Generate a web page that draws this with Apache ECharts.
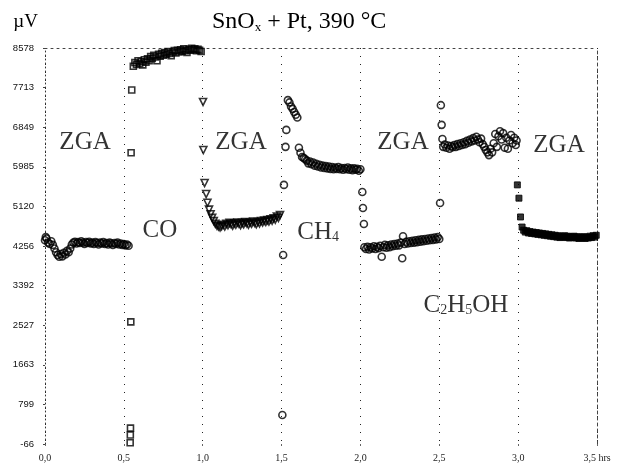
<!DOCTYPE html>
<html><head><meta charset="utf-8">
<script src="https://cdn.jsdelivr.net/npm/echarts@6/dist/echarts.min.js"></script>
<style>html,body{margin:0;padding:0;background:#fff}#c{width:634px;height:469px}</style>
</head><body><div id="c"></div>
<script>
// ---- tick labels ----
const xTickLabels = ['0,0','0,5','1,0','1,5','2,0','2,5','3,0','3,5 hrs'];
const yTickLabels = ['-66','799','1663','2527','3392','4256','5120','5985','6849','7713','8578'];

// ---- series: [hours, µV] ----
const zgaA = [[0.000,4380],[0.005,4450],[0.010,4420],[0.020,4330],[0.030,4300],[0.040,4360],[0.050,4280],[0.060,4200],[0.070,4120],[0.080,4060],[0.090,4020],[0.100,4080],[0.110,4030],[0.120,4110],[0.130,4070],[0.140,4150],[0.150,4120],[0.160,4200],[0.170,4290],[0.180,4330],[0.190,4350],[0.200,4310],[0.210,4340],[0.220,4320],[0.230,4360],[0.240,4330],[0.250,4300],[0.260,4340],[0.270,4320],[0.280,4350],[0.290,4310],[0.300,4330],[0.310,4300],[0.320,4340],[0.330,4320],[0.340,4290],[0.350,4330],[0.360,4310],[0.370,4340],[0.380,4300],[0.390,4320],[0.400,4290],[0.410,4330],[0.420,4310],[0.430,4280],[0.440,4320],[0.450,4300],[0.460,4330],[0.470,4290],[0.480,4310],[0.490,4280],[0.500,4300],[0.510,4270],[0.520,4290],[0.530,4260]];

const coB = [[0.540,-40],[0.541,130],[0.542,280],[0.544,2600],[0.546,6290],[0.550,7660],[0.560,8180],[0.570,8260],[0.580,8220],[0.590,8300],[0.600,8240],[0.610,8280],[0.620,8210],[0.630,8320],[0.640,8270],[0.650,8340],[0.660,8300],[0.670,8390],[0.680,8350],[0.690,8420],[0.700,8380],[0.710,8300],[0.720,8440],[0.730,8400],[0.740,8460],[0.750,8420],[0.760,8480],[0.770,8440],[0.780,8500],[0.790,8460],[0.800,8410],[0.810,8490],[0.820,8520],[0.830,8470],[0.840,8530],[0.850,8490],[0.860,8540],[0.870,8510],[0.880,8560],[0.890,8520],[0.900,8480],[0.910,8550],[0.920,8530],[0.930,8570],[0.940,8540],[0.950,8560],[0.960,8520],[0.970,8550],[0.980,8530],[0.990,8500]];

const zgaC = [[1.002,7400],[1.004,6350],[1.012,5630],[1.022,5390],[1.030,5200],[1.040,5050],[1.050,4950],[1.060,4870],[1.070,4800],[1.080,4740],[1.090,4700],[1.100,4680],[1.110,4660],[1.120,4690],[1.130,4720],[1.140,4680],[1.150,4740],[1.160,4710],[1.170,4760],[1.180,4730],[1.190,4700],[1.200,4750],[1.210,4720],[1.220,4770],[1.230,4740],[1.240,4710],[1.250,4760],[1.260,4730],[1.270,4780],[1.280,4750],[1.290,4720],[1.300,4770],[1.310,4740],[1.320,4790],[1.330,4760],[1.340,4730],[1.350,4780],[1.360,4750],[1.370,4800],[1.380,4770],[1.390,4810],[1.400,4780],[1.410,4820],[1.420,4790],[1.430,4840],[1.440,4810],[1.450,4860],[1.460,4830],[1.470,4900],[1.480,4870],[1.490,4930]];

const ch4D = [[1.505,566],[1.510,4060],[1.515,5590],[1.525,6420],[1.530,6790],[1.540,7440],[1.550,7390],[1.560,7300],[1.570,7250],[1.580,7180],[1.590,7120],[1.600,7060],[1.610,6400],[1.620,6290],[1.630,6200],[1.640,6180],[1.650,6150],[1.660,6120],[1.670,6060],[1.680,6100],[1.690,6040],[1.700,6080],[1.710,6010],[1.720,6050],[1.730,5990],[1.740,6030],[1.750,5970],[1.760,6010],[1.770,5960],[1.780,6000],[1.790,5950],[1.800,5990],[1.810,5940],[1.820,5980],[1.830,5930],[1.840,5970],[1.850,5940],[1.860,5980],[1.870,5930],[1.880,5960],[1.890,5920],[1.900,5960],[1.910,5930],[1.920,5970],[1.930,5920],[1.940,5950],[1.950,5910],[1.960,5950],[1.970,5920],[1.980,5940],[1.990,5900],[2.000,5930]];

const zgaE = [[2.012,5435],[2.016,5085],[2.022,4736],[2.025,4230],[2.035,4190],[2.045,4240],[2.055,4180],[2.065,4230],[2.075,4200],[2.085,4250],[2.095,4190],[2.105,4240],[2.115,4210],[2.125,4260],[2.135,4020],[2.145,4230],[2.155,4280],[2.165,4220],[2.175,4270],[2.185,4230],[2.195,4290],[2.205,4250],[2.215,4300],[2.225,4260],[2.235,4310],[2.245,4270],[2.255,4330],[2.265,3990],[2.270,4470],[2.280,4300],[2.290,4350],[2.300,4310],[2.310,4360],[2.320,4320],[2.330,4370],[2.340,4330],[2.350,4380],[2.360,4340],[2.370,4390],[2.380,4350],[2.390,4400],[2.400,4360],[2.410,4410],[2.420,4370],[2.430,4420],[2.440,4380],[2.450,4430],[2.460,4390],[2.470,4440],[2.480,4400],[2.490,4450],[2.500,4410]];

const ethF = [[2.505,5195],[2.510,7330],[2.515,6900],[2.520,6590],[2.525,6420],[2.535,6470],[2.545,6400],[2.555,6450],[2.565,6380],[2.575,6440],[2.585,6410],[2.595,6460],[2.605,6420],[2.615,6480],[2.625,6440],[2.635,6500],[2.645,6460],[2.655,6520],[2.665,6480],[2.675,6550],[2.685,6510],[2.695,6580],[2.705,6540],[2.715,6610],[2.725,6560],[2.735,6640],[2.745,6580],[2.755,6520],[2.765,6600],[2.775,6480],[2.785,6420],[2.795,6350],[2.805,6300],[2.815,6240],[2.825,6380],[2.835,6300],[2.845,6500],[2.855,6700],[2.865,6420],[2.875,6650],[2.885,6760],[2.895,6580],[2.905,6720],[2.915,6400],[2.925,6620],[2.935,6380],[2.945,6560],[2.955,6680],[2.965,6500],[2.975,6620],[2.985,6460],[2.990,6560]];

const zgaG = [[2.995,5590],[3.005,5300],[3.015,4890],[3.025,4670],[3.035,4600],[3.045,4560],[3.055,4590],[3.065,4540],[3.075,4570],[3.085,4530],[3.095,4560],[3.105,4520],[3.115,4550],[3.125,4510],[3.135,4540],[3.145,4500],[3.155,4530],[3.165,4490],[3.175,4520],[3.185,4480],[3.195,4510],[3.205,4470],[3.215,4500],[3.225,4460],[3.235,4490],[3.245,4450],[3.255,4480],[3.265,4440],[3.275,4470],[3.285,4450],[3.295,4480],[3.305,4440],[3.315,4470],[3.325,4430],[3.335,4460],[3.345,4440],[3.355,4470],[3.365,4430],[3.375,4460],[3.385,4420],[3.395,4450],[3.405,4430],[3.415,4460],[3.425,4420],[3.435,4450],[3.445,4430],[3.455,4470],[3.465,4440],[3.475,4480],[3.485,4450],[3.495,4490]];

// ---- annotations (text, hours, µV) ----
const annoText = ['ZGA','CO','ZGA','CH{s|4}','ZGA','C{s|2}H{s|5}OH','ZGA'];
const annoT    = [0.254, 0.729, 1.243, 1.600, 2.270, 2.40, 3.259];
const annoV    = [6526, 4605, 6526, 4561, 6526, 2968, 6461];
const annoAlign = ['center','center','center','left','center','left','center'];

const SERIF = "'Liberation Serif','Times New Roman',serif";
const chart = echarts.init(document.getElementById('c'), null, {renderer:'canvas'});

function openSeries(name, data, symbol, size, extra) {
  return Object.assign({
    name, type:'scatter', data, symbol, symbolSize:size,
    itemStyle:{color:'rgba(255,255,255,0)', borderColor:'#000', borderWidth:1.6},
    emphasis:{disabled:true}, z:3, animation:false
  }, extra || {});
}

const annoData = annoText.map((t,i)=>({value:[annoT[i], annoV[i]], name:t,
  label:{align:annoAlign[i]}}));

chart.setOption({
  backgroundColor:'#fff',
  animation:false,
  title:{
    text:'SnO{s|x} + Pt, 390 °C',
    left:207, top:5,
    textStyle:{fontFamily:SERIF, fontSize:24, fontWeight:'normal', color:'#000',
      rich:{s:{fontFamily:SERIF, fontSize:13, color:'#000', verticalAlign:'bottom', lineHeight:12, padding:[10,0,0,0]}}}
  },
  grid:{left:45, right:37, top:48, bottom:25, containLabel:false},
  xAxis:[{
    type:'value', min:0, max:3.5, interval:0.5, position:'bottom',
    axisLine:{show:false, onZero:false},
    axisTick:{show:true, length:2, lineStyle:{color:'#666'}},
    splitLine:{show:true, lineStyle:{color:'#222', width:1, type:[1,7]}},
    axisLabel:{fontFamily:SERIF, fontSize:10, color:'#222', margin:9,
      formatter:(v)=>xTickLabels[Math.round(v/0.5)]}
  },{
    type:'value', min:0, max:3.5, position:'top',
    axisLine:{show:true, onZero:false, lineStyle:{color:'#444', width:1, type:[2,4]}},
    axisTick:{show:false}, axisLabel:{show:false}, splitLine:{show:false}
  }],
  yAxis:[{
    type:'value', min:-66, max:8578, interval:864.4, position:'left',
    name:'µV', nameLocation:'end', nameGap:26,
    nameTextStyle:{fontFamily:SERIF, fontSize:19, color:'#000', align:'right', verticalAlign:'middle', padding:[0,7,0,0]},
    axisLine:{show:true, onZero:false, lineStyle:{color:'#333', width:1, type:[1,3]}},
    axisTick:{show:true, length:2, lineStyle:{color:'#444'}},
    splitLine:{show:false},
    axisLabel:{fontFamily:"'Liberation Sans',Arial,sans-serif", fontSize:9.5, color:'#111', margin:11,
      formatter:(v)=>yTickLabels[Math.round((v+66)/864.4)]}
  },{
    type:'value', min:-66, max:8578, position:'right',
    axisLine:{show:true, onZero:false, lineStyle:{color:'#444', width:1, type:[3,3]}},
    axisTick:{show:false}, axisLabel:{show:false}, splitLine:{show:false}
  }],
  series:[
    openSeries('ZGA1', zgaA, 'circle', 7),
    openSeries('CO', coB, 'rect', 6),
    openSeries('ZGA2', zgaC, 'triangle', 7, {symbolRotate:180}),
    openSeries('CH4', ch4D, 'circle', 7),
    openSeries('ZGA3', zgaE, 'circle', 7),
    openSeries('C2H5OH', ethF, 'circle', 7),
    openSeries('ZGA4', zgaG, 'rect', 6, {itemStyle:{color:'#000', borderColor:'#000', borderWidth:1}}),
    {
      name:'labels', type:'scatter', data:annoData, symbolSize:0, silent:true, z:5,
      label:{show:true, position:'inside', color:'#000', fontFamily:SERIF, fontSize:25,
        verticalAlign:'middle',
        formatter:(p)=>p.name,
        rich:{s:{fontFamily:SERIF, fontSize:14, color:'#000', verticalAlign:'bottom', lineHeight:14, padding:[14,0,0,0]}}}
    }
  ]
});
</script>
</body></html>
